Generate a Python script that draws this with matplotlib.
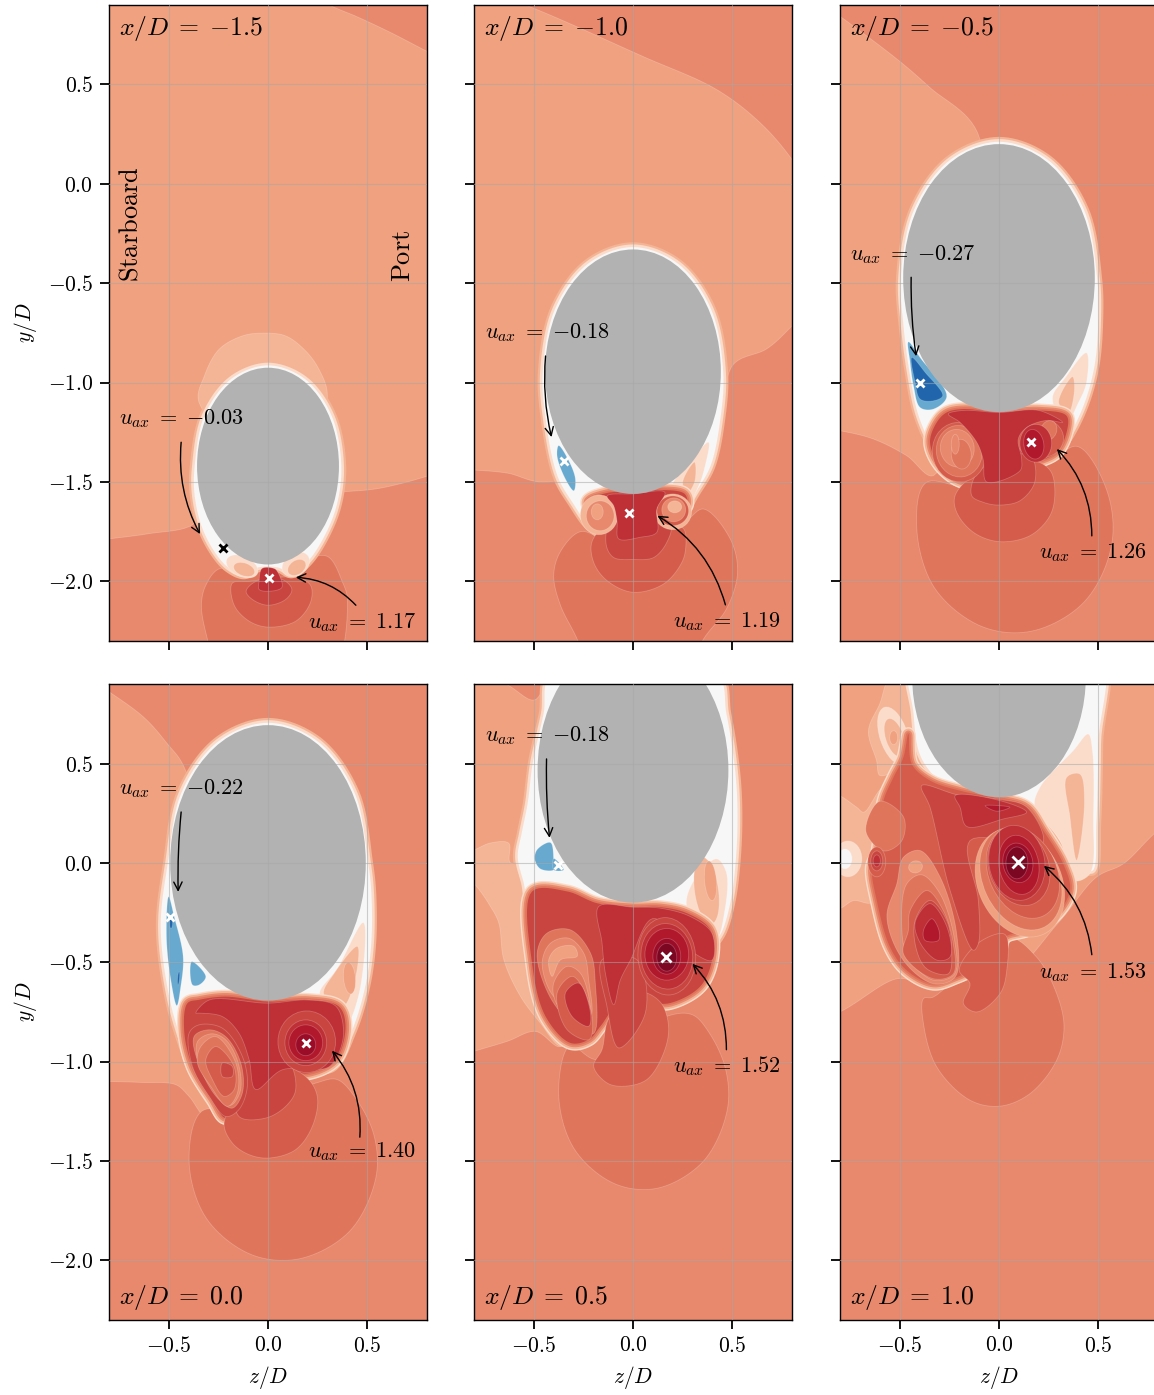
#plot.py
#Axial velocity contours behind the hull at six x/D stations
import numpy as np
import matplotlib
matplotlib.use("Agg")
import matplotlib.pyplot as plt
from matplotlib.patches import Ellipse, Polygon

plt.rcParams["mathtext.fontset"] = "cm"
plt.rcParams["font.family"] = ["cmr10", "DejaVu Serif"]
plt.rcParams["axes.unicode_minus"] = False

#contour band colours, white to dark red, then the two blues
W, L1, L2, L3, L4, L5, L6, L7, L8, L9, L10, L11, B1, B2 = range(14)
colors = ["#F7F7F7", "#FBDCCA", "#F4B596", "#F0A17F", "#E8896D", "#DF755B", "#D55C4A",
          "#C9453F", "#BE2F36", "#B2182B", "#9A0C28", "#7C0722", "#67A9CF", "#2166AC"]
body_color = "#B2B2B2"

#edge bands (colour, stroke width in pt) for polygons
bands = {"shell": [(L2, 7.0), (L1, 3.8)],
         "wake": [(L1, 10), (L2, 8), (L4, 5.2), (L5, 2.6)]}

#stations
stations = ["-1.5", "-1.0", "-0.5", "0.0", "0.5", "1.0"]

#hull section: centre height and half axes
body_y = [-1.42, -0.945, -0.474, 0.0, 0.467, 0.94]
body_a = [0.357, 0.442, 0.482, 0.492, 0.48, 0.437]
body_b = [0.495, 0.615, 0.674, 0.693, 0.667, 0.61]

#extreme points: z, y, label, arrow tail, arrow head, text anchor
min_z = [-0.226, -0.345, -0.397, -0.492, -0.379, None]
min_y = [-1.83, -1.396, -1.002, -0.271, -0.01, None]
min_val = ["-0.03", "-0.18", "-0.27", "-0.22", "-0.18", None]
max_z = [0.005, -0.018, 0.161, 0.191, 0.168, 0.095]
max_y = [-1.982, -1.655, -1.299, -0.905, -0.472, 0.005]
max_val = ["1.17", "1.19", "1.26", "1.40", "1.52", "1.53"]

min_text_z = [-0.749, -0.746, -0.749, -0.749, -0.746, None]
min_text_y = [-1.183, -0.746, -0.354, 0.372, 0.638, None]
min_tail = [(-0.437, -1.30), (-0.44, -0.866), (-0.442, -0.47), (-0.437, 0.256), (-0.435, 0.523), None]
min_head = [(-0.342, -1.762), (-0.41, -1.274), (-0.417, -0.867), (-0.452, -0.146), (-0.42, 0.126), None]
min_rad = [0.15, 0.08, 0.04, 0.03, 0.03, None]

max_text_z = [0.2, 0.203, 0.2, 0.2, 0.203, 0.2]
max_text_y = [-2.208, -2.203, -1.857, -1.452, -1.025, -0.548]
max_tail = [(0.442, -2.12), (0.465, -2.118), (0.467, -1.771), (0.462, -1.38), (0.47, -0.94), (0.467, -0.462)]
max_head = [(0.14, -1.98), (0.123, -1.67), (0.291, -1.334), (0.322, -0.945), (0.299, -0.508), (0.226, -0.015)]

marker_size = [6, 6, 6, 6, 7, 8.5]

#contour regions per panel, in drawing order, in z/D and y/D
#(level, points) or (level, points, band name) or (level, z, y, rx, ry, angle)
p1_layers = [
    (L3, [(-1.1, -1.82), (-0.8, -1.786), (-0.6, -1.76), (-0.38, -1.715), (-0.3, -1.6), (0.37, -1.55), (0.54, -1.535),
          (0.68, -1.505), (0.82, -1.465), (1.1, -1.38), (1.1, 0.52), (0.8, 0.667), (0.62, 0.76), (0.45, 0.84),
          (0.31, 0.9), (0.15, 1.0), (-1.1, 1.1)]),
    (L2, [(-0.347, -1.10), (-0.32, -0.966), (-0.246, -0.832), (-0.129, -0.765), (-0.028, -0.751), (0.089, -0.765),
          (0.189, -0.84), (0.256, -0.932), (0.298, -1.05), (0.27, -1.18), (0, -1.4)]),
    (L5, [(-0.246, -1.937), (-0.313, -2.02), (-0.335, -2.12), (-0.305, -2.29), (-0.24, -2.5), (0.3, -2.5), (0.4, -2.1),
          (0.373, -2.0), (0.298, -1.874), (0.15, -1.9), (-0.1, -1.95)]),
    (L6, [(-0.18, -2.01), (-0.17, -2.12), (-0.095, -2.2), (0, -2.23), (0.14, -2.2), (0.214, -2.105), (0.214, -2.02),
          (0.14, -1.98), (-0.095, -2.0)]),
    (L7, [(-0.11, -2.05), (-0.08, -2.09), (0, -2.12), (0.09, -2.09), (0.12, -2.04), (0.07, -1.99), (-0.06, -2.0)]),
    (W, [(-0.369, -1.42), (-0.37, -1.56), (-0.335, -1.72), (-0.27, -1.85), (-0.2, -1.93), (-0.12, -1.965),
         (-0.05, -1.93), (0.05, -1.93), (0.12, -1.96), (0.2, -1.9), (0.28, -1.78), (0.345, -1.62), (0.369, -1.42),
         (0.32, -1.166), (0.185, -0.981), (0, -0.913), (-0.185, -0.981), (-0.32, -1.166)], "shell"),
    (L1, -0.13, -1.925, 0.085, 0.05, -25),
    (L2, -0.12, -1.94, 0.055, 0.032, -20),
    (L1, 0.14, -1.915, 0.075, 0.055, 35),
    (L2, 0.145, -1.93, 0.05, 0.035, 35),
    (L8, [(-0.045, -2.0), (-0.045, -2.04), (0, -2.05), (0.07, -2.03), (0.047, -1.95), (0.03, -1.935), (-0.03, -1.935)]),
]

p2_layers = [
    (L3, [(-1.1, 1.1), (-0.54, 0.9), (0.048, 0.642), (0.42, 0.475), (0.638, 0.309), (0.8, 0.123), (1.0, -0.2),
          (1.0, -0.5), (0.8, -0.715), (0.673, -0.83), (0.506, -0.907), (0.4, -1.2), (-0.432, -1.5), (-0.633, -1.455),
          (-0.8, -1.44), (-1.1, -1.43)]),
    (L5, [(-0.265, -1.75), (-0.365, -1.85), (-0.399, -1.97), (-0.365, -2.12), (-0.281, -2.29), (-0.2, -2.5), (0.25, -2.5),
          (0.355, -2.29), (0.472, -2.135), (0.526, -1.954), (0.489, -1.786), (0.355, -1.636), (0.255, -1.70),
          (-0.13, -1.786)]),
    (W, [(-0.454, -0.945), (-0.44, -1.18), (-0.38, -1.47), (-0.3, -1.61), (-0.22, -1.72), (-0.15, -1.76), (-0.1, -1.7),
         (0.1, -1.7), (0.17, -1.73), (0.23, -1.69), (0.31, -1.56), (0.39, -1.42), (0.44, -1.18), (0.454, -0.945),
         (0.393, -0.631), (0.227, -0.402), (0, -0.318), (-0.227, -0.402), (-0.393, -0.631)], "shell"),
    (L1, [(0.38, -1.3), (0.27, -1.42), (0.2, -1.52), (0.28, -1.6), (0.33, -1.52), (0.36, -1.43)]),
    (L2, [(0.31, -1.4), (0.25, -1.5), (0.27, -1.56), (0.31, -1.5)]),
    (L7, [(-0.23, -1.6), (-0.13, -1.555), (0, -1.55), (0.13, -1.54), (0.26, -1.56), (0.27, -1.62), (0.13, -1.72),
          (0, -1.74), (-0.13, -1.72)], "wake"),
    (L6, [(-0.206, -1.80), (-0.198, -1.904), (-0.131, -1.996), (0, -2.055), (0.154, -2.013), (0.246, -1.904),
          (0.266, -1.82), (0.255, -1.736), (0.188, -1.71), (-0.13, -1.72)]),
    (L7, [(-0.134, -1.82), (-0.097, -1.88), (0, -1.89), (0.104, -1.88), (0.17, -1.804), (0.188, -1.72), (0, -1.68), (-0.12, -1.72)]),
    (L2, -0.17, -1.665, 0.095, 0.1, 0),
    (L4, -0.165, -1.67, 0.07, 0.075, 0),
    (L3, -0.18, -1.65, 0.03, 0.04, 0),
    (L2, 0.2, -1.65, 0.095, 0.09, 0),
    (L6, 0.2, -1.645, 0.08, 0.075, 0),
    (L4, 0.205, -1.64, 0.06, 0.06, 0),
    (L2, 0.21, -1.625, 0.035, 0.03, 0),
    (L8, [(-0.13, -1.57), (0, -1.56), (0.16, -1.552), (0.12, -1.636), (0.12, -1.753), (0.037, -1.778), (-0.072, -1.786),
          (-0.08, -1.70), (-0.097, -1.62)]),
    (B1, [(-0.374, -1.317), (-0.323, -1.393), (-0.29, -1.485), (-0.298, -1.544), (-0.34, -1.485), (-0.382, -1.368)]),
]

p3_layers = [
    (L3, [(-1.1, 1.05), (-0.8, 0.843), (-0.5, 0.617), (-0.348, 0.485), (-0.108, 0.258), (-0.1, -0.5), (-0.33, -1.468),
          (-0.464, -1.368), (-0.631, -1.284), (-0.8, -1.242), (-1.1, -1.2)]),
    (L5, [(-0.368, -1.504), (-0.414, -1.728), (-0.325, -2.032), (-0.089, -2.226), (0.166, -2.25), (0.429, -2.103),
          (0.566, -1.82), (0.544, -1.547), (0.398, -1.322), (0.273, -1.376), (-0.129, -1.527)]),
    (W, [(0, 0.212), (-0.247, 0.12), (-0.428, -0.131), (-0.494, -0.474), (-0.48, -0.72), (-0.45, -0.95),
         (-0.41, -1.15), (-0.345, -1.31), (-0.28, -1.43), (-0.2, -1.5), (0.2, -1.39), (0.26, -1.37), (0.33, -1.3),
         (0.42, -1.13), (0.48, -0.92), (0.5, -0.68), (0.494, -0.474), (0.428, -0.131), (0.247, 0.12)], "shell"),
    (L1, [(0.44, -0.85), (0.33, -0.98), (0.27, -1.07), (0.3, -1.17), (0.34, -1.2), (0.4, -1.1), (0.44, -1.0)]),
    (L2, [(0.37, -0.97), (0.3, -1.1), (0.35, -1.15), (0.38, -1.03)]),
    (L7, [(-0.313, -1.2), (-0.347, -1.3), (-0.296, -1.418), (-0.18, -1.5), (-0.095, -1.485), (0.19, -1.4), (0.29, -1.35),
          (0.34, -1.25), (0.34, -1.167), (0.206, -1.14), (0, -1.15), (-0.18, -1.133), (-0.263, -1.15)], "wake"),
    (L6, [(-0.221, -1.569), (-0.213, -1.652), (-0.129, -1.753), (0, -1.8), (0.156, -1.77), (0.256, -1.67), (0.281, -1.552),
          (0.256, -1.44), (0.156, -1.39), (-0.129, -1.47)]),
    (L7, [(-0.12, -1.47), (-0.137, -1.569), (-0.079, -1.602), (0, -1.616), (0.106, -1.594), (0.18, -1.5), (0.16, -1.37), (0, -1.38)]),
    (L6, -0.2, -1.35, 0.135, 0.15, 10),
    (L5, -0.2, -1.345, 0.115, 0.13, 10),
    (L4, -0.21, -1.33, 0.085, 0.095, 10),
    (L5, -0.19, -1.36, 0.05, 0.075, 5),
    (L4, -0.22, -1.31, 0.02, 0.05, 0),
    (L6, 0.205, -1.28, 0.12, 0.1, 0),
    (L5, 0.25, -1.24, 0.04, 0.05, -20),
    (L8, [(-0.255, -1.158), (-0.196, -1.2), (-0.112, -1.3), (-0.08, -1.385), (-0.062, -1.5), (0.106, -1.443), (0.114, -1.385),
          (0.097, -1.284), (0.14, -1.225), (0.24, -1.19), (0.32, -1.2), (0.2, -1.14), (0, -1.15), (-0.18, -1.14)]),
    (L8, 0.185, -1.305, 0.08, 0.095, 0),
    (L9, 0.175, -1.31, 0.05, 0.075, 10),
    (B1, [(-0.456, -0.795), (-0.397, -0.874), (-0.263, -1.07), (-0.33, -1.133), (-0.397, -1.125), (-0.43, -1.016),
          (-0.447, -0.899)]),
    (B2, [(-0.439, -0.873), (-0.37, -0.95), (-0.283, -1.066), (-0.332, -1.092), (-0.397, -1.083), (-0.422, -1.0)]),
]

p4_layers = [
    (L3, [(-1.1, 1.05), (-0.8, 0.861), (-0.62, 0.728), (-0.507, 0.6), (-0.425, 0.488), (-0.3, 0), (-0.313, -1.276),
          (-0.397, -1.175), (-0.464, -1.116), (-0.63, -1.105), (-0.8, -1.1), (-1.1, -1.1)]),
    (L5, [(-0.334, -1.25), (-0.397, -1.5), (-0.311, -1.787), (-0.086, -1.97), (0.158, -1.992), (0.41, -1.854), (0.542, -1.587),
          (0.533, -1.37), (0.438, -1.18), (0.347, -1.09), (0.24, -1.108), (-0.129, -1.25)]),
    (W, [(0, 0.705), (-0.252, 0.61), (-0.436, 0.352), (-0.504, 0), (-0.54, -0.32), (-0.5, -0.66), (-0.44, -0.88),
         (-0.36, -1.08), (-0.27, -1.22), (-0.2, -1.27), (0.2, -1.03), (0.32, -1.03), (0.42, -0.85), (0.49, -0.62),
         (0.52, -0.4), (0.52, -0.15), (0.504, 0), (0.436, 0.352), (0.252, 0.61)], "shell"),
    (L1, [(0.48, -0.3), (0.35, -0.53), (0.26, -0.66), (0.34, -0.73), (0.39, -0.82), (0.46, -0.65)]),
    (L2, [(0.45, -0.42), (0.33, -0.56), (0.28, -0.66), (0.37, -0.73), (0.43, -0.62)]),
    (L3, 0.41, -0.58, 0.03, 0.08, 5),
    (L7, [(-0.405, -0.706), (-0.422, -0.84), (-0.38, -1.024), (-0.28, -1.19), (-0.213, -1.284), (-0.129, -1.19),
          (-0.05, -1.06), (0.1, -1.05), (0.206, -1.058), (0.34, -0.99),
          (0.39, -0.823), (0.357, -0.723), (0.206, -0.69), (0, -0.698), (-0.213, -0.673), (-0.347, -0.689)], "wake"),
    (L6, [(-0.221, -1.309), (-0.179, -1.41), (-0.095, -1.468), (0.005, -1.485), (0.139, -1.443), (0.223, -1.326),
          (0.248, -1.175), (0.189, -1.075), (0, -1.0), (-0.129, -1.15)]),
    (L7, [(-0.16, -1.1), (-0.146, -1.276), (-0.012, -1.284), (0.089, -1.225), (0.139, -1.142), (0.1, -1.0), (-0.1, -1.0)]),
    (L8, [(-0.363, -0.756), (-0.296, -0.69), (0, -0.706), (0.2, -0.69), (0.34, -0.72), (0.38, -0.84), (0.356, -0.957),
          (0.3, -1.03), (0.072, -1.041), (-0.062, -1.14), (-0.095, -0.99), (-0.146, -0.857), (-0.23, -0.773), (-0.347, -0.756)]),
    (L7, [(-0.397, -0.857), (-0.347, -0.815), (-0.229, -0.832), (-0.129, -0.974), (-0.104, -1.125), (-0.147, -1.242),
          (-0.213, -1.276), (-0.296, -1.175), (-0.38, -1.024)]),
    (L5, [(-0.372, -0.874), (-0.296, -0.84), (-0.213, -0.874), (-0.137, -1.007), (-0.129, -1.158), (-0.179, -1.234),
          (-0.246, -1.192), (-0.33, -1.058)]),
    (L4, [(-0.355, -0.9), (-0.285, -0.86), (-0.213, -0.89), (-0.15, -1.007), (-0.14, -1.15), (-0.19, -1.22),
          (-0.27, -1.12), (-0.345, -1.02)]),
    (L5, [(-0.338, -0.924), (-0.263, -0.874), (-0.162, -1.007), (-0.154, -1.158), (-0.204, -1.225), (-0.288, -1.125),
          (-0.355, -1.007)]),
    (L6, [(-0.313, -0.99), (-0.263, -0.924), (-0.171, -1.024), (-0.171, -1.142), (-0.221, -1.175), (-0.28, -1.09)]),
    (L7, [(-0.23, -1.007), (-0.18, -1.024), (-0.18, -1.075), (-0.23, -1.075)]),
    (L7, 0.195, -0.9, 0.145, 0.155, 0),
    (L8, 0.19, -0.905, 0.105, 0.115, 0),
    (L9, 0.19, -0.905, 0.085, 0.09, 0),
    (L10, 0.19, -0.915, 0.05, 0.055, 0),
    (B1, [(-0.5, -0.17), (-0.472, -0.27), (-0.427, -0.472), (-0.439, -0.622), (-0.459, -0.718), (-0.489, -0.589),
          (-0.511, -0.371)]),
    (B1, [(-0.384, -0.497), (-0.313, -0.572), (-0.347, -0.614), (-0.38, -0.614)]),
    (B2, -0.488, -0.3, 0.008, 0.03, 0),
    (B2, -0.45, -0.58, 0.005, 0.035, -5),
]

p5_layers = [
    (L3, [(-1.1, 1.05), (-0.65, 0.905), (-0.495, 0.82), (-0.41, 0.95), (-0.4, 0), (-0.365, -0.923), (-0.49, -0.848),
          (-0.633, -0.898), (-0.8, -0.948), (-1.1, -1.04)]),
    (L2, [(-0.9, 0.03), (-0.8, 0.065), (-0.717, 0.1), (-0.625, 0.099), (-0.617, 0), (-0.5, 0.0), (-0.3, -0.9), (-0.365, -0.923),
          (-0.466, -0.806), (-0.566, -0.672), (-0.65, -0.487), (-0.675, -0.303), (-0.717, -0.22), (-0.8, -0.105), (-0.9, -0.03)]),
    (L5, [(-0.317, -0.92), (-0.374, -1.16), (-0.297, -1.437), (-0.093, -1.614), (0.127, -1.636), (0.355, -1.5), (0.474, -1.244),
          (0.465, -1.035), (0.38, -0.85), (0.298, -0.764), (0.17, -0.772), (-0.181, -0.99)]),
    (W, [(-0.41, 0.95), (-0.45, 0.75), (-0.505, 0.5), (-0.53, 0.3), (-0.56, 0.15), (-0.58, 0.03), (-0.55, -0.1), (-0.51, -0.25),
         (-0.3, -0.3), (0, -0.3), (0.3, -0.3), (0.4, -0.4), (0.44, -0.36), (0.49, -0.2), (0.52, 0.05), (0.525, 0.3), (0.51, 0.5),
         (0.47, 0.75), (0.42, 0.95)], "shell"),
    (L1, [(0.42, 0.02), (0.3, -0.1), (0.27, -0.22), (0.35, -0.33), (0.42, -0.38), (0.46, -0.25), (0.47, -0.05)]),
    (L2, 0.37, -0.14, 0.06, 0.17, 8),
    (L3, 0.39, -0.09, 0.03, 0.1, 5),
    (L7, [(-0.508, -0.144), (-0.508, -0.504), (-0.44, -0.772), (-0.315, -0.906), (-0.223, -0.889), (-0.164, -0.822),
          (-0.08, -0.72), (0.062, -0.705), (0.188, -0.705), (0.338, -0.622), (0.397, -0.49), (0.389, -0.337), (0.271, -0.253),
          (0.137, -0.223), (0, -0.223), (-0.181, -0.203), (-0.33, -0.144)], "wake"),
    (L6, [(-0.198, -1.023), (-0.131, -1.107), (-0.047, -1.124), (0.07, -1.09), (0.154, -0.957), (0.179, -0.823),
          (0.137, -0.7), (0.03, -0.65), (-0.12, -0.78), (-0.156, -0.94)]),
    (L7, [(-0.156, -0.488), (-0.131, -0.722), (-0.072, -0.931), (0.062, -0.755), (0.02, -0.488)]),
    (L8, [(-0.173, -0.22), (0, -0.223), (0.137, -0.228), (0.288, -0.27), (0.397, -0.354), (0.397, -0.49), (0.3, -0.45),
          (0.1, -0.28), (-0.013, -0.49), (-0.064, -0.59), (-0.097, -0.714), (-0.139, -0.555), (-0.156, -0.4)]),
    (L5, [(-0.482, -0.454), (-0.432, -0.353), (-0.315, -0.337), (-0.214, -0.454), (-0.19, -0.6), (-0.2, -0.86), (-0.315, -0.8),
          (-0.42, -0.67)]),
    (L4, [(-0.457, -0.504), (-0.415, -0.404), (-0.323, -0.379), (-0.248, -0.454), (-0.223, -0.588), (-0.214, -0.772),
          (-0.3, -0.72), (-0.399, -0.672)]),
    (L3, [(-0.424, -0.488), (-0.382, -0.429), (-0.298, -0.42), (-0.281, -0.47), (-0.365, -0.488), (-0.407, -0.571)]),
    (L5, [(-0.399, -0.605), (-0.332, -0.521), (-0.265, -0.555), (-0.214, -0.739), (-0.231, -0.856), (-0.315, -0.789),
          (-0.39, -0.697)]),
    (L6, [(-0.382, -0.655), (-0.307, -0.571), (-0.256, -0.622), (-0.204, -0.789), (-0.221, -0.889), (-0.332, -0.839)]),
    (L8, [(-0.34, -0.655), (-0.273, -0.605), (-0.214, -0.755), (-0.223, -0.822), (-0.307, -0.772)]),
    (L7, 0.17, -0.47, 0.145, 0.195, 5),
    (L8, 0.17, -0.47, 0.13, 0.165, 5),
    (L9, 0.17, -0.46, 0.11, 0.13, 0),
    (L10, 0.17, -0.47, 0.07, 0.09, 0),
    (L11, 0.17, -0.475, 0.05, 0.07, 0),
    (B1, [(-0.415, 0.102), (-0.399, 0), (-0.399, -0.035), (-0.466, -0.03), (-0.494, 0.017), (-0.482, 0.067)]),
    (B1, [(-0.399, 0.022), (-0.349, -0.035), (-0.399, -0.035)]),
]

p6_layers = [
    (L3, [(-1.1, -0.87), (-0.8, -0.75), (-0.514, -0.583), (-0.4, -0.6), (0, -0.6), (0.3, -0.3), (0.49, -0.072), (0.625, -0.005),
          (0.78, 0.146), (1.1, 0.42), (1.1, 1.1), (-1.1, 1.1)]),
    (L2, [(-0.9, 0.38), (-0.8, 0.338), (-0.716, 0.28), (-0.68, 0.255), (-0.58, 0.38), (-0.5, 0.3), (-0.55, -0.05), (-0.64, -0.2),
          (-0.732, -0.19), (-0.8, -0.23), (-0.9, -0.25)]),
    (L1, -0.76, 0.02, 0.07, 0.09, 0),
    (W, -0.775, 0.02, 0.035, 0.05, 0),
    (L2, [(-0.548, 0.93), (-0.6, 0.8), (-0.657, 0.665), (-0.616, 0.514), (-0.6, 0.44), (-0.531, 0.464), (-0.464, 0.615),
          (-0.44, 0.68), (-0.44, 0.93)]),
    (L1, -0.53, 0.64, 0.07, 0.15, 18),
    (L2, -0.525, 0.63, 0.045, 0.1, 18),
    (L3, -0.53, 0.63, 0.02, 0.035, 0),
    (L5, [(-0.38, -0.683), (-0.38, -0.809), (-0.313, -1.027), (-0.146, -1.194), (0.005, -1.224), (0.156, -1.161),
          (0.29, -0.993), (0.327, -0.826), (0.29, -0.658), (0.189, -0.474), (0.039, -0.374), (-0.33, -0.675)]),
    (W, [(-0.44, 1.1), (-0.43, 0.75), (-0.4, 0.55), (-0.33, 0.44), (-0.2, 0.33), (0.2, 0.25), (0.4, 0.0), (0.47, -0.04),
         (0.49, 0.2), (0.5, 0.6), (0.5, 1.1)], "shell"),
    (L1, [(0.449, 0.648), (0.374, 0.565), (0.206, 0.38), (0.18, 0.28), (0.307, 0.112), (0.374, -0.089), (0.457, -0.055),
          (0.475, 0.23), (0.47, 0.565)]),
    (L2, [(0.34, 0.43), (0.407, 0.447), (0.43, 0.313), (0.39, 0.012), (0.357, 0.23)]),
    (L6, [(-0.456, 0.648), (-0.439, 0.497), (-0.347, 0.414), (-0.196, 0.363), (0.005, 0.322), (0.139, 0.28), (0.223, 0.162),
          (0.323, -0.005), (0.357, -0.139), (0.273, -0.273), (0.139, -0.34), (0.03, -0.374), (0, -0.45), (-0.1, -0.52),
          (-0.213, -0.575), (-0.33, -0.608), (-0.464, -0.541),
          (-0.548, -0.424), (-0.615, -0.189), (-0.64, -0.022), (-0.615, 0.045), (-0.598, 0.162), (-0.581, 0.313),
          (-0.531, 0.43), (-0.481, 0.531)], "wake"),
    (L6, [(0.03, -0.36), (0.039, -0.541), (0.005, -0.658), (-0.112, -0.75), (-0.179, -0.708), (-0.146, -0.608), (-0.2, -0.54),
          (-0.1, -0.4)]),
    (L5, [(-0.6, 0.31), (-0.48, 0.23), (-0.49, 0.11), (-0.58, 0.06), (-0.67, 0.16)]),
    (L7, [(-0.389, 0.389), (-0.2, 0.34), (0.0, 0.32), (0.14, 0.28), (0.22, 0.1), (-0.146, 0.112), (-0.104, -0.189),
          (-0.104, -0.407), (-0.129, -0.44), (-0.246, -0.139), (-0.347, 0.28)]),
    (L8, [(-0.221, 0.338), (0.005, 0.313), (0.139, 0.255), (0.022, 0.221), (-0.162, 0.183), (-0.196, 0.28)]),
    (L9, [(-0.07, 0.288), (0.055, 0.28), (-0.012, 0.26)]),
    (L4, [(-0.481, 0.028), (-0.397, 0.062), (-0.296, -0.072), (-0.213, -0.357), (-0.221, -0.575), (-0.33, -0.608),
          (-0.481, -0.491), (-0.564, -0.273), (-0.514, -0.105)]),
    (L3, -0.42, -0.02, 0.035, 0.03, 15),
    (L5, [(-0.464, -0.105), (-0.39, -0.06), (-0.3, -0.15), (-0.225, -0.38), (-0.225, -0.56), (-0.33, -0.59), (-0.46, -0.47),
          (-0.49, -0.3)]),
    (L6, [(-0.447, -0.24), (-0.363, -0.139), (-0.28, -0.24), (-0.23, -0.407), (-0.23, -0.558), (-0.33, -0.583),
          (-0.481, -0.457), (-0.456, -0.34)]),
    (L7, [(-0.422, -0.29), (-0.347, -0.189), (-0.263, -0.29), (-0.238, -0.441), (-0.255, -0.558), (-0.363, -0.533),
          (-0.414, -0.441)]),
    (L8, [(-0.422, -0.3), (-0.347, -0.205), (-0.263, -0.32), (-0.246, -0.473), (-0.31, -0.49), (-0.394, -0.407)]),
    (L9, [(-0.38, -0.34), (-0.338, -0.281), (-0.302, -0.34), (-0.305, -0.39), (-0.372, -0.39)]),
    (L6, -0.615, 0.005, 0.045, 0.075, 0),
    (L7, -0.615, 0.01, 0.03, 0.05, 0),
    (L8, -0.615, 0.01, 0.018, 0.03, 0),
    (L3, 0.105, -0.1, 0.21, 0.285, 25),
    (L5, 0.11, -0.08, 0.19, 0.27, 25),
    (L6, 0.12, -0.05, 0.17, 0.24, 25),
    (L7, 0.1, -0.02, 0.15, 0.2, 20),
    (L8, 0.09, 0, 0.14, 0.19, 10),
    (L9, 0.1, -0.01, 0.1, 0.15, 10),
    (L10, 0.095, 0.0, 0.075, 0.1, 10),
    (L11, 0.09, 0.0, 0.055, 0.08, 0),
]

layers = [p1_layers, p2_layers, p3_layers, p4_layers, p5_layers, p6_layers]

yticks = [0.5, 0.0, -0.5, -1.0, -1.5, -2.0]
ytick_labels = ["$0.5$", "$0.0$", "$-0.5$", "$-1.0$", "$-1.5$", "$-2.0$"]
xticks = [-0.5, 0.0, 0.5]
xtick_labels = ["$-0.5$", "$0.0$", "$0.5$"]

#figure layout in pixels
W_PX, H_PX = 1154, 1395
lefts = [109, 474, 840]
tops = [5, 684]
AX_W, AX_H = 318, 636


def smooth(points):
    #closed centripetal Catmull-Rom through the outline points
    p = np.array(points, dtype=float)
    n = len(p)
    out = []
    for i in range(n):
        p0, p1, p2, p3 = p[(i - 1) % n], p[i], p[(i + 1) % n], p[(i + 2) % n]
        t0 = 0.0
        t1 = t0 + np.linalg.norm(p1 - p0) ** 0.5
        t2 = t1 + np.linalg.norm(p2 - p1) ** 0.5
        t3 = t2 + np.linalg.norm(p3 - p2) ** 0.5
        for t in np.linspace(t1, t2, 12, endpoint=False):
            a1 = (t1 - t) / (t1 - t0) * p0 + (t - t0) / (t1 - t0) * p1
            a2 = (t2 - t) / (t2 - t1) * p1 + (t - t1) / (t2 - t1) * p2
            a3 = (t3 - t) / (t3 - t2) * p2 + (t - t2) / (t3 - t2) * p3
            b1 = (t2 - t) / (t2 - t0) * a1 + (t - t0) / (t2 - t0) * a2
            b2 = (t3 - t) / (t3 - t1) * a2 + (t - t1) / (t3 - t1) * a3
            out.append((t2 - t) / (t2 - t1) * b1 + (t - t1) / (t2 - t1) * b2)
    return np.array(out)


def draw_layer(ax, layer):
    level = layer[0]
    edge = (1, 1, 1, 0.22)
    if len(layer) == 6:
        ax.add_patch(Ellipse((layer[1], layer[2]), 2 * layer[3], 2 * layer[4], angle=layer[5],
                             facecolor=colors[level], edgecolor=edge, linewidth=0.6, zorder=1))
        return
    outline = smooth(layer[1])
    if len(layer) == 3:
        for band, width in bands[layer[2]]:
            ax.add_patch(Polygon(outline, closed=True, facecolor=colors[band], edgecolor=colors[band],
                                 linewidth=width, joinstyle="round", zorder=1))
        edge = "none"
    ax.add_patch(Polygon(outline, closed=True, facecolor=colors[level], edgecolor=edge, linewidth=0.6, zorder=1))


def eq(name, value):
    #unary minus right after the spaced equals sign
    return "$" + name + r"\;=\;" + value.replace("-", "{-}") + "$"


fig = plt.figure(figsize=(W_PX / 100, H_PX / 100), dpi=100)
for i in range(6):
    row, col = i // 3, i % 3
    ax = fig.add_axes([lefts[col] / W_PX, 1 - (tops[row] + AX_H) / H_PX, AX_W / W_PX, AX_H / H_PX])
    ax.set_xlim(-0.8, 0.8)
    ax.set_ylim(-2.3, 0.9)
    ax.set_facecolor(colors[L4])

    for layer in layers[i]:
        draw_layer(ax, layer)
    ax.add_patch(Ellipse((0, body_y[i]), 2 * body_a[i], 2 * body_b[i], facecolor=body_color, edgecolor="none", zorder=1.5))

    #grid over the contours
    ax.set_axisbelow(False)
    ax.grid(color="#A8A8A8", alpha=0.55, linewidth=0.8)

    ax.set_xticks(xticks)
    ax.set_yticks(yticks)
    ax.set_xticklabels(xtick_labels if row == 1 else [])
    ax.set_yticklabels(ytick_labels if col == 0 else [])
    ax.tick_params(length=6.5, width=1.3, labelsize=15.5, pad=5)
    for side in ax.spines.values():
        side.set_linewidth(1.0)
    if row == 1:
        ax.set_xlabel("$z/D$", fontsize=15.5, labelpad=6)
    if col == 0:
        ax.set_ylabel("$y/D$", fontsize=15.5, labelpad=6)

    #station label
    ax.text(-0.749, 0.78 if row == 0 else -2.186, eq("x/D", stations[i]), fontsize=18.5, va="center", ha="left", zorder=6)

    #max point
    ax.plot(max_z[i], max_y[i], "x", color="white", ms=marker_size[i], mew=2.0, zorder=5)
    ax.text(max_text_z[i], max_text_y[i], eq("u_{ax}", max_val[i]), fontsize=16, va="center", ha="left", zorder=6)
    ax.annotate("", xy=max_head[i], xytext=max_tail[i], zorder=6,
                arrowprops=dict(arrowstyle="->", color="black", lw=1.0, mutation_scale=15, shrinkA=0, shrinkB=0,
                                connectionstyle="arc3,rad=0.2"))

    #min point
    if min_z[i] is not None:
        ax.plot(min_z[i], min_y[i], "x", color="black" if i == 0 else "white", ms=6, mew=2.0, zorder=5)
        ax.text(min_text_z[i], min_text_y[i], eq("u_{ax}", min_val[i]), fontsize=16, va="center", ha="left", zorder=6)
        ax.annotate("", xy=min_head[i], xytext=min_tail[i], zorder=6,
                    arrowprops=dict(arrowstyle="->", color="black", lw=1.0, mutation_scale=15, shrinkA=0, shrinkB=0,
                                    connectionstyle="arc3,rad=%g" % min_rad[i]))

    if i == 0:
        ax.text(-0.693, -0.495, r"$\mathrm{Starboard}$", rotation=90, fontsize=19, ha="center", va="bottom", zorder=6)
        ax.text(0.678, -0.495, r"$\mathrm{Port}$", rotation=90, fontsize=19, ha="center", va="bottom", zorder=6)

fig.savefig("out.png", dpi=100)
